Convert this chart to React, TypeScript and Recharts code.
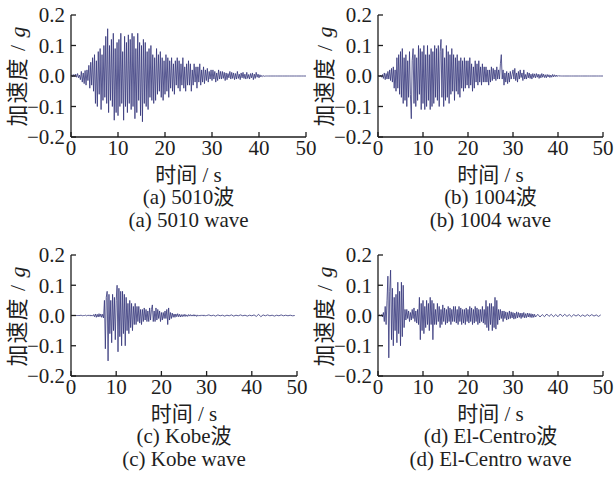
import React from "react";
import { LineChart, Line, XAxis, YAxis } from "recharts";

// sampling steps (s)
const DT = 0.2;
const TAIL_DT = 0.5;

const xTicks = [0, 10, 20, 30, 40, 50];
const yTicks = [-0.2, -0.1, 0, 0.1, 0.2];

// (a) 5010 wave, 0 - 41.8 s
const main5010 = [
  0, .004, -.003, .005, -.002,
  .006, -.004, .008, -.006, .003,
  -.012, .015, -.02, .01, -.025,
  .018, -.03, .02, -.015, .035,
  -.04, .045, -.03, .06, -.05,
  .07, -.09, .05, -.1, .08,
  -.06, .09, -.11, .07, -.08,
  .1, -.07, .13, -.09, .155,
  -.12, .1, -.08, .12, -.1,
  .14, -.145, .09, -.12, .11,
  -.13, .12, -.1, .14, -.09,
  .08, -.145, .13, -.1, .11,
  -.12, .135, -.09, .12, -.11,
  .14, -.1, .13, -.14, .09,
  -.12, .14, -.08, .11, -.13,
  .1, -.15, .12, -.09, .11,
  -.1, .08, -.11, .09, -.07,
  .1, -.08, .07, -.09, .06,
  -.08, .09, -.06, .07, -.05,
  .08, -.07, .06, -.08, .05,
  -.06, .07, -.05, .06, -.07,
  .05, -.04, .06, -.05, .04,
  -.06, .05, -.03, .06, -.04,
  .05, -.05, .04, -.03, .06,
  -.04, .03, -.05, .04, -.03,
  .05, -.03, .04, -.05, .02,
  -.03, .04, -.02, .03, -.04,
  .03, -.02, .04, -.03, .02,
  -.02, .03, -.025, .02, -.015,
  .025, -.02, .015, -.01, .02,
  -.015, .02, -.01, .015, -.02,
  .01, -.015, .02, -.01, .015,
  -.01, .015, -.008, .012, -.015,
  .01, -.012, .008, -.006, .015,
  -.01, .012, -.008, .01, -.012,
  .008, -.01, .015, -.008, .006,
  -.012, .01, -.006, .012, -.008,
  .006, -.01, .012, -.008, .005,
  -.01, .008, -.006, .01, -.012,
  .006, -.008, .012, -.004, .006,
  -.006, .004, -.003, .002, -.002,
  .001, -.001, 0, 0, 0,
];
const tail5010 = [0, 0, 0, 0, 0, 0, 0, 0, 0, 0, 0, 0, 0, 0, 0, 0, 0];

// (b) 1004 wave, 0 - 40.8 s
const main1004 = [
  0, .002, -.002, .003, -.004,
  .005, -.008, .01, -.012, .008,
  -.01, .015, -.01, .02, -.015,
  .025, -.02, .03, -.04, .02,
  -.05, .06, -.04, .07, -.06,
  .08, -.07, .09, -.09, .06,
  -.08, .07, -.1, .05, -.07,
  .08, -.06, -.14, .05, .09,
  -.09, .07, -.1, .06, -.08,
  .1, -.06, .09, -.11, .08,
  -.09, .1, -.11, .07, -.1,
  .1, -.08, .07, -.11, .09,
  -.1, .08, -.09, .1, -.07,
  .09, -.08, .1, -.1, .08,
  .12, -.07, .09, -.1, .06,
  -.08, .1, -.07, .08, -.09,
  .07, -.06, .09, -.05, .07,
  -.08, .06, -.05, .07, -.06,
  .05, -.07, .06, -.04, .05,
  -.05, .06, -.04, .05, -.03,
  .05, -.04, .06, -.03, .04,
  -.05, .03, -.04, .05, -.02,
  .04, -.03, .05, -.02, .03,
  -.03, .04, -.02, .03, -.02,
  .03, -.02, .02, -.03, .02,
  -.02, .03, -.015, .025, -.01,
  .02, -.015, .03, -.01, .02,
  -.01, .04, .07, -.01, .02,
  -.03, .01, -.02, .015, -.025,
  .01, -.02, .015, -.01, .005,
  .02, -.01, .025, -.015, .01,
  -.02, .015, -.01, .02, -.005,
  .01, -.015, .02, -.01, .005,
  -.01, .012, -.006, .01, -.008,
  .006, -.01, .008, -.005, .007,
  -.006, .008, -.004, .006, -.008,
  .005, -.006, .008, -.004, .006,
  -.005, .004, -.006, .005, -.003,
  .004, -.005, .003, -.004, .005,
  -.003, .004, -.002, .003, -.002,
  .002, -.001, .001, 0, 0,
];
const tail1004 = [0, 0, 0, 0, 0, 0, 0, 0, 0, 0, 0, 0, 0, 0, 0, 0, 0, 0, 0];

// (c) Kobe wave, 0 - 29.8 s
const mainKobe = [
  0, 0, 0, 0, 0,
  0, 0, 0, 0, 0,
  0, .001, 0, -.001, 0,
  0, .001, -.001, 0, .001,
  -.001, .002, -.002, .001, -.002,
  .003, -.004, .005, -.006, .004,
  -.005, .006, -.004, .005, -.006,
  .004, -.008, .05, -.11, .06,
  .08, -.15, .07, -.06, .05,
  -.09, .07, -.05, .06, -.08,
  .05, .1, -.12, .09, -.07,
  .08, -.1, .08, -.06, .07,
  -.1, .06, -.05, .04, -.06,
  .05, -.04, .04, -.05, .03,
  -.03, .04, -.03, .03, -.02,
  .03, -.025, .02, -.03, .02,
  -.02, .025, -.015, .02, -.02,
  .015, -.02, .025, -.015, .02,
  .035, -.02, .015, -.02, .025,
  -.015, .02, -.01, .015, -.02,
  .01, -.015, .01, -.01, .015,
  -.01, .02, -.03, .025, -.015,
  .01, -.01, .008, -.006, .005,
  -.006, .005, -.004, .006, -.004,
  .004, -.005, .003, -.004, .003,
  -.003, .004, -.003, .002, -.003,
  .003, -.002, .003, -.002, .002,
  -.002, .003, -.002, .002, -.003,
  .002, -.002, .001, -.002, .002,
  -.001, .002, -.002, .001, -.001,
];
// 30 - 49.5 s
const tailKobe = [
  0, .002, -.001, .001, -.002, .002, -.001, .001, -.002, .001,
  -.001, .002, -.002, .001, -.001, .002, -.001, .001, -.002, .001,
  -.001, .002, -.003, .004, -.004, .002, -.001, .002, -.001, .001,
  -.002, .001, -.001, .002, -.001, .001, -.001, .001, -.001, 0,
];

// (d) El-Centro wave, 0 - 34.8 s
const mainElCentro = [
  0, 0, .002, -.002, .003,
  -.005, .01, -.02, .03, -.03,
  .05, .13, -.14, .08, .15,
  -.08, .09, -.1, .06, -.05,
  .07, -.09, .11, -.06, .08,
  -.1, .11, -.07, .1, -.04,
  .02, -.015, .02, -.01, .015,
  -.02, .01, -.015, .02, -.01,
  .025, -.02, .015, -.025, .02,
  -.03, .06, -.08, .04, -.05,
  .05, -.06, .03, -.04, .05,
  -.03, .04, -.05, .06, -.03,
  .05, -.08, .04, -.03, .02,
  -.03, .04, -.02, .03, -.04,
  .02, -.03, .035, -.02, .025,
  -.03, .02, -.025, .03, -.02,
  .025, -.03, .02, -.02, .03,
  -.02, .03, -.025, .02, -.03,
  .03, -.02, .025, -.03, .02,
  -.025, .02, -.03, .025, -.02,
  .02, -.025, .03, -.02, .025,
  -.03, .02, -.025, .03, -.02,
  .025, -.03, .02, -.025, .02,
  -.02, .03, -.025, .02, -.03,
  .05, -.04, .03, -.05, .04,
  -.03, .04, -.05, .03, -.04,
  .06, -.045, .05, -.03, .02,
  -.015, .02, -.01, .015, -.02,
  .015, -.01, .012, -.015, .01,
  -.012, .015, -.01, .012, -.008,
  .01, -.012, .008, -.01, .012,
  -.008, .01, -.006, .008, -.01,
  .008, -.006, .01, -.008, .006,
  -.007, .008, -.005, .007, -.006,
  .006, -.007, .005, -.006, .004,
];
// 35 - 49.5 s
const tailElCentro = [
  -.005, .004, -.005, .003, -.004, .005, -.003, .004, -.004, .003,
  -.004, .005, -.003, .004, -.003, .003, -.004, .003, -.002, .003,
  -.003, .002, -.003, .003, -.002, .003, -.002, .002, -.003, .002,
];

const toRows = (main: number[], tail: number[]) => {
  const start = main.length * DT;
  return [
    ...main.map((v, i) => ({ t: Math.round(i * DT * 10) / 10, a: v })),
    ...tail.map((v, i) => ({ t: start + i * TAIL_DT, a: v })),
  ];
};

const FONT = "'Liberation Serif', 'Times New Roman', 'Noto Sans CJK SC', serif";
const INK = "#1e1e1e";
const PAD_R = 16;

const fmtY = (v: number) => (v < 0 ? "\u2212" + Math.abs(v).toFixed(1) : v.toFixed(1));

type PanelProps = {
  left: number;
  top: number;
  plotW: number;
  plotH: number;
  rows: { t: number; a: number }[];
  captionCn: string;
  captionEn: string;
};

function Panel({ left, top, plotW, plotH, rows, captionCn, captionEn }: PanelProps) {
  const plotLeft = 71;
  const width = plotLeft + plotW + PAD_R;
  const height = 15 + plotH + 23;
  const cx = left + plotLeft + plotW / 2;
  const cy = top + 15 + plotH / 2;
  const textStyle: React.CSSProperties = {
    position: "absolute",
    width: 260,
    left: cx - 130,
    height: 21,
    lineHeight: "21px",
    textAlign: "center",
    fontFamily: FONT,
    fontSize: 21,
    color: INK,
    whiteSpace: "nowrap",
  };
  const axisBottom = top + 15 + plotH;
  return (
    <>
      <div style={{ position: "absolute", left, top }}>
        <LineChart width={width} height={height} data={rows} margin={{ top: 15, right: PAD_R, bottom: 0, left: 0 }}>
          <XAxis
            dataKey="t"
            type="number"
            domain={[0, 50]}
            ticks={xTicks}
            interval={0}
            height={23}
            tickSize={-5}
            tickMargin={8}
            axisLine={{ stroke: INK, strokeWidth: 1.3 }}
            tickLine={{ stroke: INK, strokeWidth: 1.3 }}
            tick={{ fill: INK, fontSize: 21, fontFamily: FONT }}
          />
          <YAxis
            type="number"
            domain={[-0.2, 0.2]}
            ticks={yTicks}
            interval={0}
            width={71}
            tickSize={-5}
            tickMargin={11}
            tickFormatter={fmtY}
            axisLine={{ stroke: INK, strokeWidth: 1.3 }}
            tickLine={{ stroke: INK, strokeWidth: 1.3 }}
            tick={{ fill: INK, fontSize: 21, fontFamily: FONT }}
          />
          <Line
            type="linear"
            dataKey="a"
            stroke="#33357a"
            strokeWidth={0.8}
            dot={false}
            isAnimationActive={false}
          />
        </LineChart>
      </div>
      <div
        style={{
          position: "absolute",
          left: left + 18 - 70,
          top: cy - 11,
          width: 140,
          height: 22,
          lineHeight: "22px",
          textAlign: "center",
          transform: "rotate(-90deg)",
          fontFamily: FONT,
          fontSize: 22,
          letterSpacing: 1,
          color: INK,
          whiteSpace: "nowrap",
        }}
      >
        加速度 / <i>g</i>
      </div>
      <div style={{ ...textStyle, top: axisBottom + 38 - 10 }}>时间 / s</div>
      <div style={{ ...textStyle, top: axisBottom + 60 - 10 }}>{captionCn}</div>
      <div style={{ ...textStyle, top: axisBottom + 83 - 10 }}>{captionEn}</div>
    </>
  );
}

export default function App() {
  return (
    <div style={{ position: "absolute", left: 0, top: 0, width: 616, height: 480, background: "#fff", overflow: "hidden" }}>
      <Panel left={0} top={0} plotW={235} plotH={122} rows={toRows(main5010, tail5010)} captionCn="(a) 5010波" captionEn="(a) 5010 wave" />
      <Panel left={307} top={0} plotW={225} plotH={122} rows={toRows(main1004, tail1004)} captionCn="(b) 1004波" captionEn="(b) 1004 wave" />
      <Panel left={0} top={240} plotW={226} plotH={121} rows={toRows(mainKobe, tailKobe)} captionCn="(c) Kobe波" captionEn="(c) Kobe wave" />
      <Panel left={307} top={240} plotW={225} plotH={121} rows={toRows(mainElCentro, tailElCentro)} captionCn="(d) El-Centro波" captionEn="(d) El-Centro wave" />
    </div>
  );
}
